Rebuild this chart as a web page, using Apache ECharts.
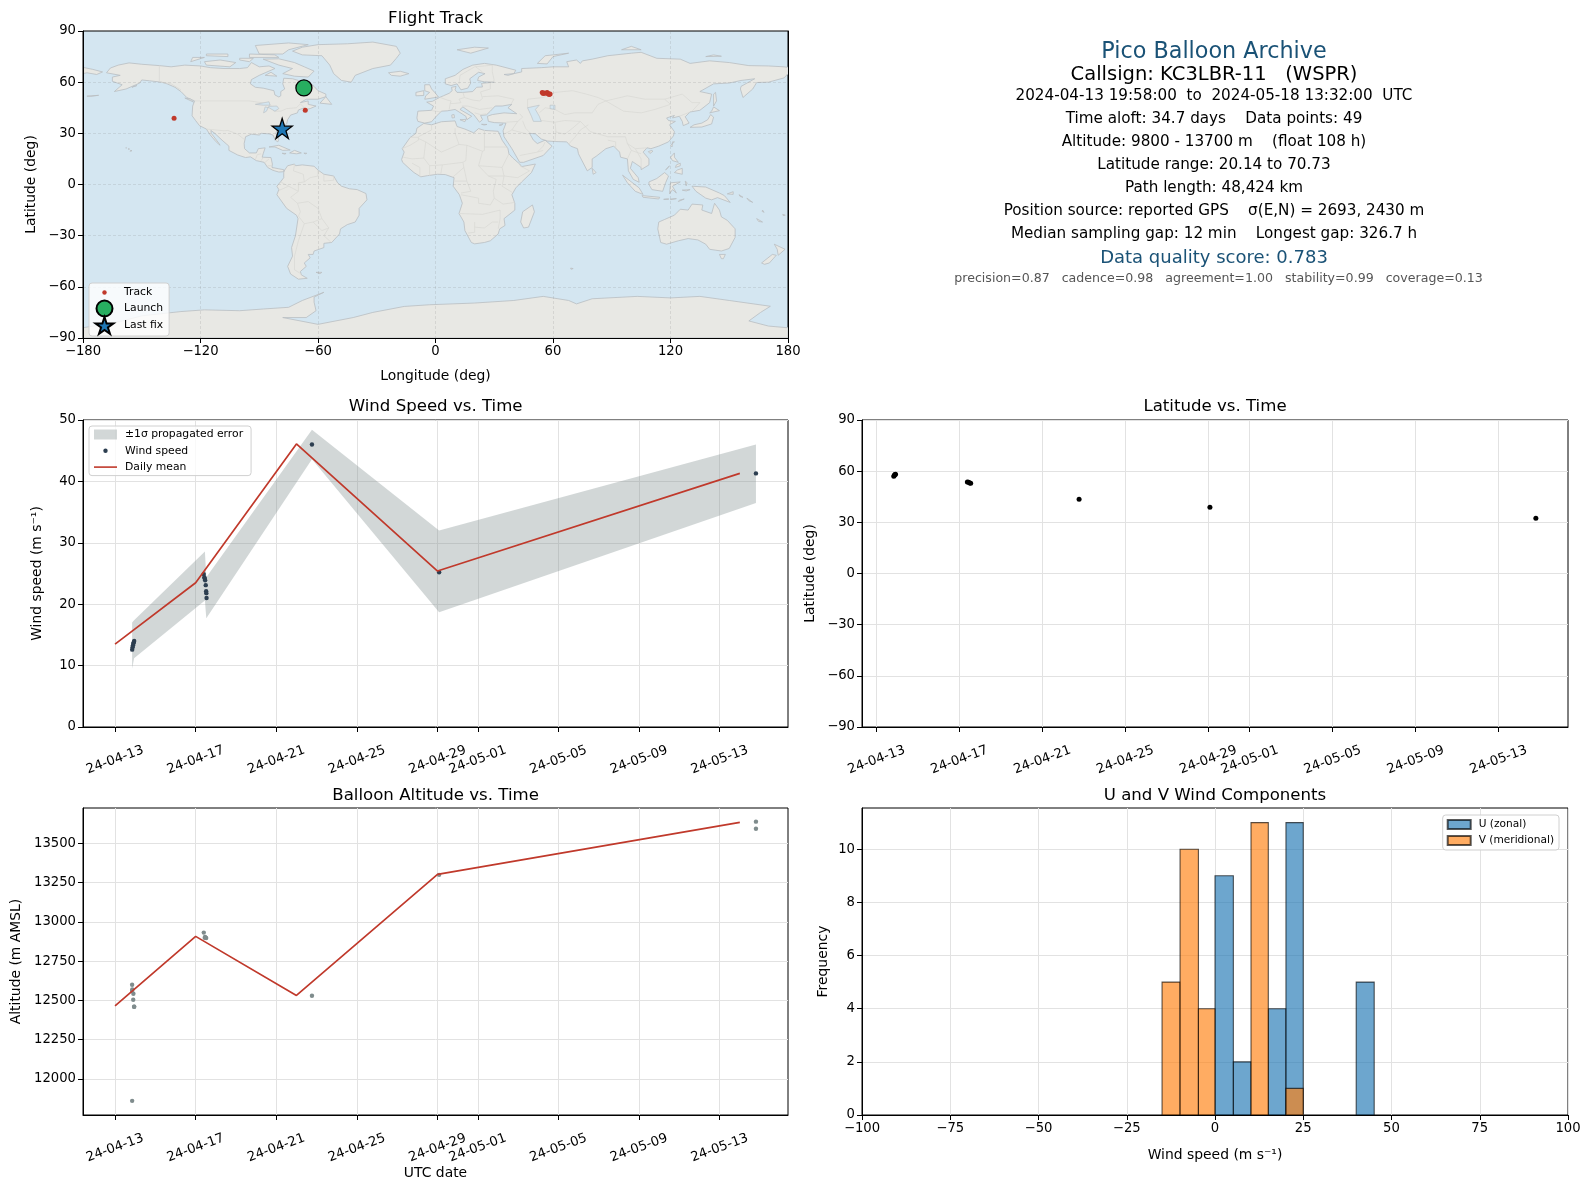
<!DOCTYPE html>
<html><head><meta charset="utf-8">
<style>html,body{margin:0;padding:0;background:#fff}#c{width:1589px;height:1189px}</style>
<script src="https://cdn.jsdelivr.net/npm/echarts@6/dist/echarts.min.js"></script>
</head><body><div id="c"></div>
<script>
// ---------- tick labels ----------
const DATE_TICKS = ['04-13','04-17','04-21','04-25','04-29','05-01','05-05','05-09','05-13'];
const LON_TICKS = [-180,-120,-60,0,60,120,180];
const LAT_TICKS = [-90,-60,-30,0,30,60,90];
const WIND_TICKS = [0,10,20,30,40,50];
const ALT_TICKS = [12000,12250,12500,12750,13000,13250,13500];
const HIST_X_TICKS = [-100,-75,-50,-25,0,25,50,75,100];
const HIST_Y_TICKS = [0,2,4,6,8,10];

// ---------- series values ----------
const windTimes = ['04-13 20:24','04-13 20:53','04-13 21:22','04-13 21:50','04-13 22:19','04-13 22:48',
  '04-17 09:36','04-17 10:19','04-17 10:48','04-17 11:17','04-17 12:00','04-17 12:29','04-17 12:43','04-17 12:58',
  '04-22 18:29','04-29 01:55','05-14 19:12'];
const windValues = [12.6,13.0,13.3,13.6,13.8,14.0, 24.9,24.4,24.2,23.9,23.1,22.1,21.8,21.0, 46.0,25.2,41.3];
const bandTimes = ['04-13 20:20','04-13 22:40','04-17 11:00','04-17 12:40','04-22 18:29','04-29 01:55','05-14 19:12'];
const bandLow = [9.5,11.2,20.6,17.7,43.6,18.7,36.5];
const bandHigh = [17.0,17.4,28.6,24.4,48.4,32.0,46.0];
const meanDates = ['04-13 00:00','04-17 00:00','04-22 00:00','04-29 00:00','05-14 00:00'];
const windMean = [13.5,23.5,46.1,25.4,41.3];
const altMean = [12465,12908,12532,13303,13634];
const altTimes = ['04-13 20:20','04-13 20:30','04-13 20:20','04-13 21:50','04-13 21:40','04-13 22:50','04-13 22:40','04-13 20:22',
  '04-17 09:40','04-17 10:50','04-17 11:40','04-17 12:30','04-17 11:10','04-22 18:29','04-29 01:55','05-14 19:12','05-14 19:12'];
const altValues = [12600,12570,12560,12543,12504,12460,12460,11860, 12932,12900,12900,12898,12905, 12530,13300,13639,13594];
const latTimes = ['04-13 20:00','04-13 20:40','04-13 21:20','04-13 22:00','04-17 09:10','04-17 10:30','04-17 12:00','04-17 13:00','04-22 18:29','04-29 01:55','05-14 19:12'];
const latValues = [57.0,57.6,58.0,58.2,53.7,53.5,53.1,52.9,43.6,38.9,32.4];
const trackLon = [-66.9,-66.7,-66.5,54.5,55,55.5,56.5,57,57.5,58,58.5,-66.5,-133.5,-78.3];
const trackLat = [57.0,57.6,58.2,53.9,53.4,53.7,53.5,53.9,53.3,52.8,53.0,43.6,38.9,32.8];
const launchPoint = [-67.2,56.6];
const lastFixPoint = [-78.3,32.8];
// histogram bins: [from, to, count]
const uBins = [[0,5.2,9],[5.2,10.2,2],[15.1,20.1,4],[20.1,25,11],[40,45.1,5]];
const vBins = [[-15,-9.9,5],[-9.9,-4.7,10],[-4.7,0,4],[10.2,15.1,11],[20.1,25,1]];

// ---------- geography (lon, lat) ----------
const LAND = [
 // North America
 [[-168,65.5],[-166,68.3],[-162,70],[-156.5,71.3],[-150,70.5],[-141,69.7],[-135,69],[-128,70],[-120,69.5],[-115,68.5],[-108,68],[-100,68],[-96,68.5],[-94,71.5],[-90,69],[-85,69.5],[-82,68],[-87,65.5],[-90,64],[-94,61.5],[-94.5,59],[-92,57],[-88,56.5],[-82.5,55],[-82,52.5],[-80,51.3],[-79,52],[-79,54.5],[-77,56],[-78,59],[-77.5,62.3],[-73,62],[-70,61],[-67,58.5],[-64.5,60.2],[-62,57.5],[-60,55],[-56,53],[-56,51.5],[-60,50],[-66,50],[-69,48],[-65,49],[-65,47],[-61,46],[-64,44.5],[-66,44],[-67,45],[-70,43.7],[-70.5,42],[-74,40.7],[-75.5,38],[-76,35.5],[-78,34],[-81,32],[-81.5,30],[-80,26.5],[-80.5,25],[-81.8,26],[-83,29],[-85,29.7],[-89,30],[-90,29],[-94,29.5],[-97,28],[-97.7,24],[-97.5,21],[-95,18.5],[-91.5,18.5],[-90.5,21],[-87,21.5],[-88,18],[-88.5,16],[-84,15.8],[-83.3,12],[-83.5,10],[-80,9.2],[-77.5,8.7],[-77.5,7.5],[-80,7.3],[-83,8.3],[-85.7,10],[-87.5,13],[-91.5,14],[-94.5,16.2],[-97,15.8],[-101,17.3],[-105.5,20],[-105.5,22.5],[-109,26],[-112.7,30],[-114.7,31.7],[-114.5,30],[-110.5,24],[-110,23],[-112,25],[-115,29],[-117,32.5],[-120.5,34.5],[-122.5,37.5],[-124.3,40.3],[-124,46],[-123,49],[-127,51],[-130,54.5],[-133,57],[-137,59],[-140,60],[-146,60.8],[-150,61.3],[-151,59.5],[-153,58.5],[-158,56],[-164,54.5],[-160,58.5],[-165,60.5],[-165,63],[-161,64],[-168,65.5]],
 // Greenland & Arctic Canada
 [[-73,78.2],[-68,76],[-58,75.5],[-54,70],[-52,65],[-48,61],[-43,60],[-41,64],[-32,68],[-23,70],[-20,74],[-18,77],[-20,81],[-32,83.5],[-45,82.5],[-60,82],[-68,80.5]],
 [[-80,73.7],[-72,71.5],[-67,69],[-62,66.5],[-65,63],[-72,63.5],[-78,65],[-73,68],[-80,70],[-88,73.5]],
 [[-90,76.5],[-78,76.5],[-75,79],[-65,82],[-75,83],[-92,81.5]],
 [[-117,70],[-105,69],[-102,71.5],[-110,73],[-118,72]],
 [[-125,72],[-118,74.5],[-124,74.5]],
 [[-95,74.5],[-80,74.5],[-82,76],[-95,76.5]],
 [[-117,75.5],[-106,75],[-106,76.5],[-117,76.5]],
 [[-100,73],[-95,72],[-93,74],[-100,74]],
 [[-87,64],[-81,63.5],[-84,65.8]],
 [[-59,47.7],[-56,51.5],[-53,47]],
 [[-128,50.7],[-123.5,48.3],[-125,50]],
 // Caribbean, Pacific
 [[-85,22],[-80,23],[-74.2,20.2],[-78,20],[-82,22]],
 [[-74.5,18.5],[-72,20],[-68.5,18.5],[-71,18]],
 [[-78.3,18.3],[-76.3,18.2],[-77,17.8]],
 [[-67.2,18.4],[-65.7,18.3],[-66.5,18]],
 [[-156,19.5],[-155,19.7],[-155.5,20.2]],[[-158.2,21.5],[-157.7,21.4],[-158,21.7]],[[-157,20.9],[-156.2,20.8],[-156.5,20.6]],
 [[-178,51.8],[-172,52.3],[-176,51.7]],
 [[-155,57],[-152.5,58],[-154,57.6]],
 // South America
 [[-77,8.5],[-75.5,11],[-72,12],[-71.5,11],[-68,11.5],[-62,10.7],[-60,8.5],[-57,6],[-52,5],[-50,1],[-48,-1],[-44,-2.5],[-40,-3],[-35.5,-5.3],[-35,-9],[-39,-14],[-39,-18],[-41,-22],[-45,-23.5],[-48.5,-26],[-49,-29],[-53,-34],[-57,-34.5],[-57,-37],[-62,-39],[-62.5,-41],[-65,-41],[-64,-43],[-67,-46],[-66,-48],[-69,-51],[-68.5,-53],[-65.5,-55],[-70,-55.5],[-74,-52.5],[-75.5,-48],[-73,-42],[-73.5,-37],[-71.5,-30],[-70.2,-20],[-71,-18],[-76,-14],[-81,-6],[-80,-3],[-81,-1],[-78.8,2],[-77.5,4],[-77.5,7]],
 [[-61,-51.5],[-58,-51.5],[-59,-52.3]],
 // Africa
 [[-6,35.8],[-2,35],[3,36.8],[10,37.3],[11,34],[15,32.5],[19.5,30.3],[22,32.8],[25,31.7],[32,31.2],[32.5,30],[34,26],[37,21],[37.5,18],[39.5,15.5],[43,12],[44,10.5],[51,12],[49,7],[44,1.5],[41,-2],[39,-6],[40.5,-11],[40.5,-15],[35,-20],[35.5,-24],[32.8,-26],[32,-29],[28,-33],[25,-34],[20,-34.8],[18.3,-34],[15,-27],[14.5,-22],[12,-17],[13.7,-11],[12.2,-6],[9,-1],[9.5,4],[5,5.8],[1,6],[-4,5.2],[-7.5,4.5],[-11,7],[-13.5,9.5],[-16.8,13],[-17.3,14.7],[-16,19],[-17,21],[-13,27.5],[-10,30],[-9.5,33]],
 [[49.5,-12],[50.5,-16],[47.5,-25],[45,-25.5],[43.5,-22],[44.5,-16]],
 // Eurasia
 [[-9,37],[-9.5,39],[-9,43],[-2,43.5],[-1,46],[-4.5,48.3],[-1.5,48.8],[2,51],[4,52],[7,53.5],[8.5,55],[8.2,57],[10.5,57.5],[10,55.5],[11,54],[14,54],[19,54.5],[21,57],[24,57.2],[23.5,59.3],[30,60],[25,60.2],[21.5,61],[22,63],[25.3,65],[22,65.8],[17.5,62],[18,59.5],[16.5,56.5],[13,55.5],[11,59],[8,58],[5,59],[5,62],[10,64],[14,67.5],[19,70],[25,71],[31,70],[41,67],[40,65],[35,64.5],[37,64],[40,65],[44,66],[44,68],[54,68.5],[60,69],[68,69],[67,72],[72,73],[74,71],[75,72.5],[80,73.5],[88,75.5],[100,77],[105,77.5],[113,74],[125,73.5],[130,71],[140,72.5],[150,71.5],[160,69.7],[170,69.5],[178,69],[180,68.7],[180,65],[178,62.5],[170,60],[164,59.8],[162,56],[157,51],[155.7,56],[156,57.5],[163,62],[156,61],[150,59.5],[142,59],[135,54.5],[141,53],[140,48],[135,43.5],[130,42.5],[127.5,39.7],[129.5,36],[126.5,34.5],[126,37],[124.5,40],[121,39],[122,40.5],[118,39],[119,37.5],[122.5,37],[119.5,35],[122,31],[121.5,28.5],[119,25],[114,22.5],[110,21],[108,21.5],[106,19],[109,15],[109,11.5],[105,8.7],[105,10],[100.5,13.5],[99.5,9.5],[103.5,4],[104,1.3],[101,3],[98.5,8],[98,15],[94.5,16],[94,19],[91,22.5],[87,21],[82,16.5],[80,15],[80,10],[77.5,8],[73,18],[72.5,21],[69,22.5],[67,25],[61,25.2],[57,25.5],[54,26.7],[51,29.7],[48,30],[50,26],[52,24],[56,26],[59.5,22.5],[55,17],[45,13],[43,13],[39,21],[35,28],[34.5,31.5],[36,36],[30,36.3],[27,37],[26.5,40],[29,41],[35,42],[41.5,41.5],[37,45],[39,47],[34,46],[30.5,46],[28,43],[26,40.8],[23,40.5],[24,38],[22.5,36.5],[19.5,41],[14,45.5],[12.5,44],[18.5,40],[16,38],[15.5,40],[10,44],[6,43.2],[3,43],[0,39.5],[-2,36.8],[-5.5,36]],
 [[-180,68.7],[-175,67.5],[-170,66],[-173,64.5],[-178,65.5],[-180,65]],
 // European & Asian islands
 [[-5.5,50],[1.5,51.3],[0,53.5],[-2,56],[-3,58.5],[-5.5,58.5],[-5.5,55],[-3,54],[-5,52]],
 [[-10,52],[-6,52.2],[-6,55],[-10,54]],
 [[-24,65.5],[-18,66.4],[-13.6,65],[-18,63.5],[-22.5,64]],
 [[11,79],[20,80.5],[27,80],[18,77]],
 [[52,71],[57,70.7],[60,75],[68,77],[56,75.5]],
 [[95,79],[105,79],[100,81]],
 [[138,75],[146,75.2],[142,76]],
 [[8.5,39],[9.7,39.2],[9.5,41],[8.3,40.8]],[[12.5,38],[15.5,38.2],[15,36.8]],[[23.5,35.3],[26.3,35.2],[24.8,34.9]],[[32.5,34.8],[34.5,35.6],[33.5,34.6]],
 [[130,33.5],[136,33.7],[141,35.5],[142,39.5],[140.5,41],[139,38],[136,36],[132,35]],
 [[140,42],[145,43.3],[142,45.5],[141,43]],
 [[142,46],[143.5,49],[143,54],[142,53]],
 [[120,23],[122,25],[121,25],[120.8,22]],
 [[108.7,19.3],[110.5,20],[111,19.5],[109.5,18.2]],
 [[80,9.5],[82,7],[80.5,6]],
 [[120,16],[122,18.5],[122,16],[124,13],[121,14]],
 [[122,7],[126,6],[126,9.5],[123.5,8.5]],
 [[118,9],[119.5,11],[117.5,8.5]],
 [[122.5,10],[125,11],[125,12.5],[123,11.5]],
 [[109,1.5],[113,3.5],[117,7],[119,5],[117.5,1],[116,-4],[110.5,-3],[109,0]],
 [[95.5,5.5],[104,-2],[106,-5.8],[102,-4],[98,1]],
 [[105.5,-6.5],[114.5,-7.5],[114,-8.5],[106,-7.5]],
 [[119.5,-5.5],[120,1],[125,1.5],[121,-1],[123,-5],[121,-3]],
 [[127.5,2],[128.5,1],[128,-0.8]],[[126,-3.3],[130,-3],[128,-3.8]],
 [[116.5,-8.7],[119,-8.3],[119,-8.8]],[[120,-8.5],[123,-8.3],[120,-8.9]],[[124,-10],[127,-8.5],[124.5,-9.2]],
 [[131,-1],[138,-1.5],[145,-5],[147.5,-6.5],[150.5,-10.5],[144,-7.7],[141,-9],[138,-8],[133,-4]],
 [[149,-5.5],[152,-4.2],[152,-5.8]],[[155,-6],[157,-7.5],[155.5,-7]],[[159,-8],[162,-10.5],[160,-9.5]],
 // Oceania
 [[114,-22],[113.5,-26],[115,-34],[118,-35],[124,-33],[129,-31.7],[134,-32.5],[138,-35],[140,-38],[146,-39],[150,-37.5],[153,-31],[153,-26],[149,-21],[146,-19],[145,-15],[142.5,-11],[141,-17],[136,-15],[136.5,-12],[131,-11.5],[129,-15],[125,-14.5],[122,-18],[117,-20.5]],
 [[145,-41],[148,-41],[147,-43.5],[146,-43.5]],
 [[166.5,-46],[172,-41],[174,-41.5],[170.5,-46],[168,-46.8]],
 [[173,-35],[178.5,-38],[175,-41.5],[174.5,-38]],
 [[164,-20],[167,-22],[165,-21.7]],[[177.3,-17.5],[178.6,-18],[177.5,-18.2]],[[167,-15],[167.8,-16.3],[166.8,-15.8]],
 [[69,-49],[70.3,-49.3],[69.2,-49.7]],
 // Antarctica
 [[-180,-84],[-160,-80],[-150,-77],[-130,-74.5],[-118,-73.5],[-100,-74],[-88,-73],[-75,-72],[-68,-68],[-57,-63.2],[-62,-66],[-62,-69],[-61,-74],[-66,-78],[-78,-78],[-60,-82],[-42,-78],[-32,-75],[-16,-71.5],[-3,-70.5],[20,-69.5],[40,-68],[55,-65.6],[68,-68],[72,-70],[80,-67],[103,-65.6],[120,-66.5],[135,-65.6],[150,-68],[171,-71.4],[166,-75],[160,-80],[170,-83],[180,-84],[180,-90],[-180,-90]]
];
const SEAS = [
 [[47,45],[53,46.5],[51,44],[53,40],[54,37],[50,37],[49,40]],
 [[58.5,46.5],[61,46.5],[61,44],[58.5,44.5]],
 [[-92,47],[-85,48.5],[-84.5,46.5],[-88,46.5]],[[-87.8,42],[-86.3,43],[-85.2,45.8],[-81,46],[-80,44.5],[-82,43],[-85,45],[-87,45.5]]
];
const BORDERS = [
 [[-141,69.6],[-141,60.3],[-135,59],[-130,55.5]],[[-123,49],[-95,49],[-89,48],[-84,46.5],[-82.5,43],[-79,43],[-76,44.5],[-71,45],[-69,47.3],[-67,45]],
 [[-117,32.5],[-108,31.5],[-106,31.7],[-101,29.5],[-97.2,26]],[[-92,14.5],[-91,17.5],[-89,18]],[[-88,15.8],[-89,14]],[[-85,15],[-87,13]],[[-83.7,11],[-85.7,11]],[[-83,9.5],[-83,8.3]],
 [[-72,12],[-72.5,8],[-67.5,6],[-67,1.5]],[[-60,8.5],[-60,5],[-64,4],[-67,1.5],[-70,1],[-70,-4],[-74,-7.5],[-70.5,-11],[-65,-10],[-60,-14],[-58,-20],[-54.5,-25.5],[-57,-30],[-53.5,-33.7]],
 [[-70.5,-11],[-69,-16],[-70,-18.5],[-67,-23],[-70,-33],[-72,-42],[-72,-50],[-68.5,-52.5]],[[-58,-20],[-62.5,-22],[-67,-23]],[[-62.5,-22],[-58,-27],[-54.5,-25.5]],[[-80,-3.5],[-75,-1],[-70,-4]],[[-79,1.5],[-75,-1]],[[-57,6],[-57,2],[-52,2.5],[-52,5]],
 [[-2,35],[-2,32],[-8.7,28]],[[-13,27.7],[-8.7,27.7],[-8.7,26],[-13,23],[-17,21]],[[-8.7,27],[-5,25],[-6,15.5],[-12,15],[-16.5,16]],[[-5,25],[3,19],[12,23.5]],[[10,33],[10,30],[12,23.5]],[[25,32],[25,20],[24,19.5],[16,23],[12,23.5]],[[25,22],[37,22]],[[16,23],[15.5,14],[14,13]],[[24,19.5],[22,11],[27,5]],
 [[2.7,6.3],[3.5,11.5],[14,13],[14.5,10],[9,4.5]],[[3.5,11.5],[-3,11],[-6,15.5]],[[-3,11],[-3,5]],[[-8,4.5],[-8,10],[-12,12.5]],[[37.5,18],[34,10],[35,5],[42,4],[48,8],[43,11]],[[22,11],[34,10]],[[27,5],[35,5]],
 [[35,5],[34,-1],[39,-4.5]],[[27,5],[31,3],[29.5,-4],[30,-8],[28,-12],[22,-11],[22,-8],[13,-6]],[[14.5,10],[16,2],[12,2],[9.7,2]],[[16,2],[18,-4],[13,-5]],[[40.5,-10.5],[34.5,-11.5],[30,-8]],[[12,-17],[24,-17.5],[33,-15]],[[20,-22],[20,-28],[16.5,-28.5]],[[20,-25],[25,-25.5],[29,-22],[32,-22]],[[33,-15],[33,-20],[32,-26]],
 [[-1.7,43.3],[3,42.5]],[[2.5,51],[6,49.5],[8,49],[7.5,47.5],[7,44]],[[14,54],[14.8,51],[12,50],[13,48],[9.5,47.5],[7.5,47.5]],[[23,54.3],[24,50.5],[22.5,49]],[[14.8,51],[19,49.5],[22.5,49]],[[24,51.5],[32,52],[40,50],[38.5,47]],[[23,54.3],[28,56],[28,59.5]],[[28,59.5],[30,61],[29,66],[29,70]],[[12,59],[12.5,64],[20,69],[25,69.5],[29,70]],[[24,66],[20.5,69]],[[13.5,46],[16.5,46],[22.5,44],[29,45]],[[20,42],[23,41],[26,41.5]],
 [[36,36.5],[42,37],[44.5,39.5],[43,41.5]],[[44.5,37.3],[46,33],[48.5,30]],[[39,32],[47,29.5]],[[35,29.5],[39,32],[42,37]],[[43,17],[52,19],[55,20]],[[52,19],[55,22.5],[56,25]],[[61,25.2],[61.5,31],[61,36.5],[54,37.5]],[[61,31],[66,29.5],[70,33],[74,37]],[[61,36.5],[66,37.5],[74,37]],[[68,23.7],[71,27.5],[74,32],[78,35]],
 [[47,45],[47,50],[55,51],[61,54],[70,55],[77,53],[83,51],[87,49]],[[53,42],[56,45],[61,44],[66,41],[71,42],[80,42],[83,47],[87,49]],[[87,49],[98,52],[107,50],[117,50],[120,47],[112,44],[105,42],[96,43],[87,49]],[[117,50],[126,53],[131,48],[135,48],[131,43]],[[124.5,40],[130,42.5]],
 [[74,37],[79,31],[88,28],[97,28],[98,24],[102,21],[108,21.5]],[[98,24],[100,20],[98,15]],[[102,21],[105,15],[105,10]],[[100,20],[105,18]],[[88,26],[92,25],[92,21]]
];

// ---------- text ----------
const PANEL_LINES = [
 ['Pico Balloon Archive',52.5,22.3,'#1a5276',1214],
 ['Callsign: KC3LBR-11   (WSPR)',75,19.5,'#000',1214],
 ['2024-04-13 19:58:00  to  2024-05-18 13:32:00  UTC',96,15.2,'#000',1214],
 ['Time aloft: 34.7 days    Data points: 49',119,15.2,'#000',1214],
 ['Altitude: 9800 - 13700 m    (float 108 h)',142,15.2,'#000',1214],
 ['Latitude range: 20.14 to 70.73',165,15.2,'#000',1214],
 ['Path length: 48,424 km',188,15.2,'#000',1214],
 ['Position source: reported GPS    σ(E,N) = 2693, 2430 m',211,15.2,'#000',1214],
 ['Median sampling gap: 12 min    Longest gap: 326.7 h',234,15.2,'#000',1214],
 ['Data quality score: 0.783',258.5,18,'#1a5276',1214],
 ['precision=0.87   cadence=0.98   agreement=1.00   stability=0.99   coverage=0.13',278.5,12.6,'#555',1218.5]
];

// ---------- helpers ----------
const FONT = '"DejaVu Sans"';
const T = s => Date.parse('2024-' + s.replace(' ', 'T') + ':00Z');
const zip = (a, b) => a.map((v, i) => [v, b[i]]);
const zipT = (a, b) => a.map((v, i) => [T(v), b[i]]);
const minus = v => String(v).replace('-', '\u2212');
const dateTicks = DATE_TICKS.map(d => T(d + ' 00:00'));
const dateLabel = v => new Date(v).toISOString().slice(2, 10);
const STAR = 'M10 0L12.25 6.91L19.51 6.91L13.63 11.18L15.88 18.09L10 13.82L4.12 18.09L6.37 11.18L0.49 6.91L7.75 6.91Z';
const ICON_W = 23;
const dot = (r, h) => `path://M0 0L0 0M${ICON_W} ${h}L${ICON_W} ${h}M${ICON_W/2-r} ${h/2}a${r} ${r} 0 1 0 ${2*r} 0a${r} ${r} 0 1 0 ${-2*r} 0Z`;
const lineIcon = h => `path://M0 0L0 0M${ICON_W} ${h}L${ICON_W} ${h}M0 ${h/2-0.8}H${ICON_W}V${h/2+0.8}H0Z`;
const TICK_STYLE = { show: true, length: 5, lineStyle: { color: '#000', width: 1 } };
const LINE_STYLE = { show: true, onZero: false, lineStyle: { color: '#000', width: 1 } };
const GRIDLINE = { show: true, lineStyle: { color: '#e2e2e2', width: 1 } };
const LABEL = { color: '#000', fontFamily: FONT, fontSize: 13.2 };
const NAME_STYLE = { color: '#000', fontFamily: FONT, fontSize: 13.9 };

const GRIDS = [
 { left: 83, top: 31, width: 705, height: 307 },
 { left: 83, top: 420, width: 705, height: 307 },
 { left: 862, top: 420, width: 706, height: 307 },
 { left: 83, top: 808, width: 705, height: 307 },
 { left: 862, top: 808, width: 706, height: 307 }
];
function timeAxis(i, min, max, name) {
 return { type: 'value', gridIndex: i, min: T(min), max: T(max), name: name || '', nameLocation: 'middle', nameGap: 51,
  nameTextStyle: NAME_STYLE,
  axisLine: LINE_STYLE, axisTick: Object.assign({ customValues: dateTicks }, TICK_STYLE), minorTick: { show: false },
  axisLabel: Object.assign({ customValues: dateTicks, formatter: dateLabel, rotate: 20, align: 'center', verticalAlign: 'middle', margin: 33, hideOverlap: false }, LABEL),
  splitLine: GRIDLINE };
}
function valAxis(i, min, max, ticks, name, gap, isY) {
 return { type: 'value', gridIndex: i, min, max, name, nameLocation: 'middle', nameGap: gap,
  nameTextStyle: NAME_STYLE,
  axisLine: LINE_STYLE, axisTick: Object.assign({ customValues: ticks }, TICK_STYLE),
  axisLabel: Object.assign({ customValues: ticks, formatter: minus, margin: 7 }, LABEL, isY ? { padding: [6, 0, 0, 0] } : {}),
  splitLine: GRIDLINE };
}
const MAP_GRID = { show: true, lineStyle: { color: 'rgba(110,110,110,0.16)', width: 1, type: [3, 2] } };
function polyRender(list, style) {
 return (params, api) => ({ type: 'polygon', shape: { points: list[params.dataIndex].map(p => api.coord(p)) }, style });
}
function legendBox(left, top, names, extra) {
 return Object.assign({ left, top, orient: 'vertical', selectedMode: false, padding: [3, 8, 3, 5],
  backgroundColor: 'rgba(255,255,255,0.8)', borderColor: '#d0d0d0', borderWidth: 1, borderRadius: 3,
  itemWidth: ICON_W, itemHeight: 10, itemGap: 5.3,
  textStyle: { color: '#000', fontFamily: FONT, fontSize: 10.8, padding: [0, 0, 0, 3] }, data: names }, extra || {});
}
function binSeries(name, bins, color, z) {
 return { type: 'custom', name, xAxisIndex: 4, yAxisIndex: 4, z, clip: true, data: bins.map((b, i) => [i, 0]),
  itemStyle: { color, borderColor: 'rgba(0,0,0,0.65)', borderWidth: 1.1 },
  renderItem: (params, api) => {
   const b = bins[params.dataIndex], a = api.coord([b[0], b[2]]), c = api.coord([b[1], 0]);
   return { type: 'rect', shape: { x: a[0], y: a[1], width: c[0] - a[0], height: c[1] - a[1] },
    style: { fill: color, stroke: 'rgba(0,0,0,0.65)', lineWidth: 1.1 } };
  } };
}

const titles = [
 ['Flight Track', 435.6, 18.5], ['Wind Speed vs. Time', 435.6, 406.5], ['Latitude vs. Time', 1215, 406.5],
 ['Balloon Altitude vs. Time', 435.6, 795.5], ['U and V Wind Components', 1215, 795.5]
].map(t => ({ text: t[0], left: t[1], top: t[2], padding: 0, textAlign: 'center', textVerticalAlign: 'middle',
  textStyle: { fontFamily: FONT, fontSize: 16.6, fontWeight: 'normal', color: '#000' } }));
const panel = PANEL_LINES.map(l => ({ text: l[0], left: l[4], top: l[1], padding: 0, textAlign: 'center', textVerticalAlign: 'middle',
  textStyle: { fontFamily: FONT, fontSize: l[2], fontWeight: 'normal', color: l[3] } }));

const option = {
 animation: false, backgroundColor: '#fff',
 title: titles.concat(panel),
 grid: GRIDS.map((g, i) => Object.assign({}, g, { show: true, borderColor: '#000', borderWidth: 1 }, i === 0 ? { backgroundColor: '#d4e6f1' } : {})),
 xAxis: [
  Object.assign(valAxis(0, -180, 180, LON_TICKS, 'Longitude (deg)', 31), { splitLine: MAP_GRID, z: 3 }),
  timeAxis(1, '04-11 09:50', '05-16 09:22'),
  timeAxis(2, '04-12 07:12', '05-16 08:24'),
  timeAxis(3, '04-11 09:50', '05-16 09:22', 'UTC date'),
  valAxis(4, -100, 100, HIST_X_TICKS, 'Wind speed (m s\u207B\u00B9)', 33)
 ],
 yAxis: [
  Object.assign(valAxis(0, -90, 90, LAT_TICKS, 'Latitude (deg)', 45, true), { splitLine: MAP_GRID, z: 3 }),
  valAxis(1, 0, 50, WIND_TICKS, 'Wind speed (m s\u207B\u00B9)', 39, true),
  valAxis(2, -90, 90, LAT_TICKS, 'Latitude (deg)', 45, true),
  valAxis(3, 11770, 13726, ALT_TICKS, 'Altitude (m AMSL)', 60, true),
  valAxis(4, 0, 11.55, HIST_Y_TICKS, 'Frequency', 32, true),
  // right spine of the map
  { type: 'value', gridIndex: 0, min: -90, max: 90, position: 'right', z: 3, axisLine: LINE_STYLE, axisTick: { show: false }, axisLabel: { show: false }, splitLine: { show: false } }
 ],
 legend: [
  legendBox(89, 283, [
   { name: 'Track', icon: dot(2.2, 17) }, { name: 'Launch', icon: dot(8, 17) }, { name: 'Last fix', icon: 'path://' + STAR }
  ], { itemHeight: 17, itemGap: -2, padding: [1, 6, 1, 3] }),
  legendBox(89, 426, [
   { name: '\u00B11\u03C3 propagated error', icon: 'rect' }, { name: 'Wind speed', icon: dot(2.2, 10) },
   { name: 'Daily mean', icon: lineIcon(10), itemStyle: { color: '#c0392b', borderWidth: 0 } }
  ]),
  legendBox(1442.7, 815, [{ name: 'U (zonal)', icon: 'rect' }, { name: 'V (meridional)', icon: 'rect' }], { itemHeight: 9, itemGap: 5, padding: [4, 5, 4, 4], textStyle: { color: '#000', fontFamily: FONT, fontSize: 10.6, padding: [0, 0, 0, 3] } })
 ],
 series: [
  { type: 'custom', name: 'land', xAxisIndex: 0, yAxisIndex: 0, z: 1, clip: true, silent: true, data: LAND.map((p, i) => [i, 0]),
    renderItem: polyRender(LAND, { fill: '#e8e8e4', stroke: '#b9bec1', lineWidth: 0.8 }) },
  { type: 'custom', name: 'seas', xAxisIndex: 0, yAxisIndex: 0, z: 1.5, clip: true, silent: true, data: SEAS.map((p, i) => [i, 0]),
    renderItem: polyRender(SEAS, { fill: '#d4e6f1', stroke: '#b9bec1', lineWidth: 0.6 }) },
  { type: 'custom', name: 'borders', xAxisIndex: 0, yAxisIndex: 0, z: 1.2, clip: true, silent: true, data: BORDERS.map((p, i) => [i, 0]),
    renderItem: (params, api) => ({ type: 'polyline', shape: { points: BORDERS[params.dataIndex].map(p => api.coord(p)) }, style: { fill: 'none', stroke: '#d8d8d4', lineWidth: 0.7 } }) },
  { type: 'scatter', name: 'Track', xAxisIndex: 0, yAxisIndex: 0, z: 5, symbolSize: 5, itemStyle: { color: '#c0392b', opacity: 1 }, data: zip(trackLon, trackLat) },
  { type: 'scatter', name: 'Launch', xAxisIndex: 0, yAxisIndex: 0, z: 6, symbolSize: 16, itemStyle: { color: '#27ae60', borderColor: '#000', borderWidth: 1.3, opacity: 1 }, data: [launchPoint] },
  { type: 'scatter', name: 'Last fix', xAxisIndex: 0, yAxisIndex: 0, z: 7, symbol: 'path://' + STAR, symbolSize: 20, itemStyle: { color: '#1f77b4', borderColor: '#000', borderWidth: 1.3, opacity: 1 }, data: [lastFixPoint] },

  { type: 'custom', name: '\u00B11\u03C3 propagated error', xAxisIndex: 1, yAxisIndex: 1, z: 2, clip: true, data: [[T(bandTimes[0]), bandLow[0]]],
    itemStyle: { color: 'rgba(127,140,141,0.35)' },
    renderItem: (params, api) => {
     const up = bandTimes.map((t, i) => api.coord([T(t), bandHigh[i]]));
     const lo = bandTimes.map((t, i) => api.coord([T(t), bandLow[i]])).reverse();
     return { type: 'polygon', shape: { points: up.concat(lo) }, style: { fill: 'rgba(127,140,141,0.35)' } };
    } },
  { type: 'scatter', name: 'Wind speed', xAxisIndex: 1, yAxisIndex: 1, z: 3, symbolSize: 4.4, itemStyle: { color: '#2c3e50', opacity: 1 }, data: zipT(windTimes, windValues) },
  { type: 'line', name: 'Daily mean', xAxisIndex: 1, yAxisIndex: 1, z: 4, symbol: 'none', lineStyle: { color: '#c0392b', width: 1.7 }, itemStyle: { color: '#c0392b' }, data: zipT(meanDates, windMean) },

  { type: 'scatter', name: 'Latitude', xAxisIndex: 2, yAxisIndex: 2, z: 3, symbolSize: 5, itemStyle: { color: '#000', opacity: 1 }, data: zipT(latTimes, latValues) },

  { type: 'scatter', name: 'Altitude', xAxisIndex: 3, yAxisIndex: 3, z: 3, symbolSize: 4.4, itemStyle: { color: '#7f8c8d', opacity: 1 }, data: zipT(altTimes, altValues) },
  { type: 'line', name: 'Altitude mean', xAxisIndex: 3, yAxisIndex: 3, z: 4, symbol: 'none', lineStyle: { color: '#c0392b', width: 1.7 }, data: zipT(meanDates, altMean) },

  binSeries('U (zonal)', uBins, 'rgba(31,119,180,0.65)', 3),
  binSeries('V (meridional)', vBins, 'rgba(255,127,14,0.65)', 4)
 ]
};
const chart = echarts.init(document.getElementById('c'), null, { renderer: 'canvas', width: 1589, height: 1189 });
chart.setOption(option);
</script></body></html>
